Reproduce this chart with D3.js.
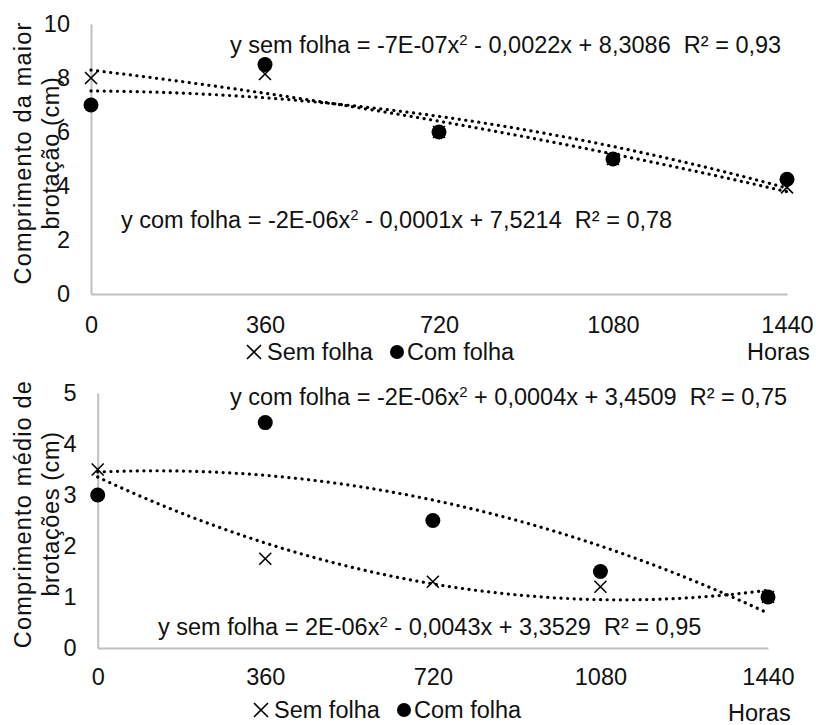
<!DOCTYPE html>
<html>
<head>
<meta charset="utf-8">
<script src="https://cdn.jsdelivr.net/npm/d3@7"></script>
<style>
  body { margin: 0; background: #fff; }
  text { font-family: "Liberation Sans", Arial, sans-serif; fill: #111; white-space: pre; }
</style>
</head>
<body>
<div id="chart"></div>
<script>
// data
var horas = [0, 360, 720, 1080, 1440];
var xTicks = [0, 360, 720, 1080, 1440];

var semFolhaMaior = [8, 8.15, 6, 5, 3.95];
var comFolhaMaior = [7, 8.5, 6, 5, 4.25];

var semFolhaMedio = [3.5, 1.75, 1.3, 1.2, 1.0];
var comFolhaMedio = [3.0, 4.42, 2.5, 1.5, 1.0];

var eqSemMaior = "y sem folha = -7E-07x|2| - 0,0022x + 8,3086  R² = 0,93";
var eqComMaior = "y com folha = -2E-06x|2| - 0,0001x + 7,5214  R² = 0,78";
var eqComMedio = "y com folha = -2E-06x|2| + 0,0004x + 3,4509  R² = 0,75";
var eqSemMedio = "y sem folha = 2E-06x|2| - 0,0043x + 3,3529  R² = 0,95";

var svgWidth = 816;
var svgHeight = 725;
var fs = 23.5;

var svg = d3.select("#chart")
  .append("svg")
  .attr("width", svgWidth)
  .attr("height", svgHeight);

// least squares quadratic (excel style polynomial trendline)
function quadFit(xs, ys) {
  var n = xs.length, s = [0, 0, 0, 0, 0], t = [0, 0, 0];
  for (var i = 0; i < n; i++) {
    var p = 1;
    for (var k = 0; k < 5; k++) { s[k] += p; if (k < 3) t[k] += p * ys[i]; p *= xs[i]; }
  }
  var A = [[s[0], s[1], s[2], t[0]], [s[1], s[2], s[3], t[1]], [s[2], s[3], s[4], t[2]]];
  for (var c = 0; c < 3; c++) {
    for (var r = c + 1; r < 3; r++) {
      var f = A[r][c] / A[c][c];
      for (var j = c; j < 4; j++) A[r][j] -= f * A[c][j];
    }
  }
  var b = [0, 0, 0];
  for (var r2 = 2; r2 >= 0; r2--) {
    var v = A[r2][3];
    for (var j2 = r2 + 1; j2 < 3; j2++) v -= A[r2][j2] * b[j2];
    b[r2] = v / A[r2][r2];
  }
  return function(x) { return b[0] + b[1] * x + b[2] * x * x; };
}

function equation(g, str, x, y) {
  var parts = str.split("|");
  var t = g.append("text").attr("x", x).attr("y", y).attr("font-size", fs);
  t.append("tspan").text(parts[0]);
  t.append("tspan").attr("dy", -8).attr("font-size", 15).text(parts[1]);
  t.append("tspan").attr("dy", 8).text(parts[2]);
}

function drawPanel(opt) {
  var g = svg.append("g");
  var x = d3.scaleLinear().domain([0, 1440]).range(opt.xRange);
  var y = d3.scaleLinear().domain([0, opt.yMax]).range(opt.yRange);

  var xAxis = g.append("g")
    .attr("transform", `translate(0, ${opt.yRange[0]})`)
    .call(d3.axisBottom(x).tickValues(xTicks).tickSize(0).tickPadding(opt.xPad).tickFormat(d3.format("d")));
  var yAxis = g.append("g")
    .attr("transform", `translate(${opt.xRange[0]}, 0)`)
    .call(d3.axisLeft(y).ticks(opt.yMax / opt.yStep).tickSize(0).tickPadding(21));
  [xAxis, yAxis].forEach(function(a) {
    a.select(".domain").attr("stroke", "#bfbfbf").attr("stroke-width", 2);
    a.selectAll("text").attr("font-size", fs).attr("fill", "#111")
      .style("font-family", "'Liberation Sans', Arial, sans-serif");
  });

  // y title, two lines
  var yt = g.append("text")
    .attr("transform", `translate(${opt.titleX}, ${opt.titleY}) rotate(-90)`)
    .attr("text-anchor", "middle")
    .attr("font-size", fs);
  yt.append("tspan").attr("x", 0).attr("dy", 0).attr("letter-spacing", 1.2).text(opt.title[0]);
  yt.append("tspan").attr("x", 0).attr("dy", 28).attr("letter-spacing", 0.6).text(opt.title[1]);

  // trendlines
  var xs = d3.range(0, 1441, 10);
  [opt.sem, opt.com].forEach(function(vals) {
    var f = quadFit(horas, vals);
    g.append("path")
      .datum(xs)
      .attr("fill", "none")
      .attr("stroke", "#000")
      .attr("stroke-width", 3.2)
      .attr("stroke-linecap", "round")
      .attr("stroke-dasharray", "0.1,6.5")
      .attr("d", d3.line().x(d => x(d)).y(d => y(f(d))));
  });

  // markers
  g.selectAll(".cross")
    .data(opt.sem)
    .enter()
    .append("path")
    .attr("d", "M-6,-6L6,6M-6,6L6,-6")
    .attr("stroke", "#000")
    .attr("stroke-width", 1.6)
    .attr("transform", (d, i) => `translate(${x(horas[i])}, ${y(d)})`);
  g.selectAll(".dot")
    .data(opt.com)
    .enter()
    .append("circle")
    .attr("cx", (d, i) => x(horas[i]))
    .attr("cy", d => y(d))
    .attr("r", 7.5)
    .attr("fill", "#000");

  // equations
  opt.eqs.forEach(function(e) { equation(g, e[0], e[1], e[2]); });

  // legend
  var lg = g.append("g").attr("transform", `translate(${opt.legend[0]}, ${opt.legend[1]})`);
  lg.append("path").attr("d", "M-7,-7L7,7M-7,7L7,-7").attr("stroke", "#000").attr("stroke-width", 1.6)
    .attr("transform", "translate(7,0)");
  lg.append("text").attr("x", 20).attr("y", 8).attr("font-size", fs).text("Sem folha");
  lg.append("circle").attr("cx", 150).attr("cy", 0).attr("r", 7).attr("fill", "#000");
  lg.append("text").attr("x", 160).attr("y", 8).attr("font-size", fs).text("Com folha");

  g.append("text")
    .attr("x", opt.horas[0]).attr("y", opt.horas[1])
    .attr("font-size", fs)
    .text("Horas");
}

drawPanel({
  xRange: [91, 787], yRange: [294, 24], yMax: 10, yStep: 2, xPad: 22,
  title: ["Comprimento da maior", "brotação (cm)"], titleX: 31, titleY: 153,
  sem: semFolhaMaior, com: comFolhaMaior,
  eqs: [[eqSemMaior, 230, 53], [eqComMaior, 121, 228]],
  legend: [247, 352], horas: [747, 360]
});

drawPanel({
  xRange: [97.7, 768], yRange: [648, 393], yMax: 5, yStep: 1, xPad: 20,
  title: ["Comprimento médio de", "brotações (cm)"], titleX: 31, titleY: 514,
  sem: semFolhaMedio, com: comFolhaMedio,
  eqs: [[eqComMedio, 230, 405], [eqSemMedio, 158, 635]],
  legend: [254, 710], horas: [728, 721]
});
</script>
</body>
</html>
